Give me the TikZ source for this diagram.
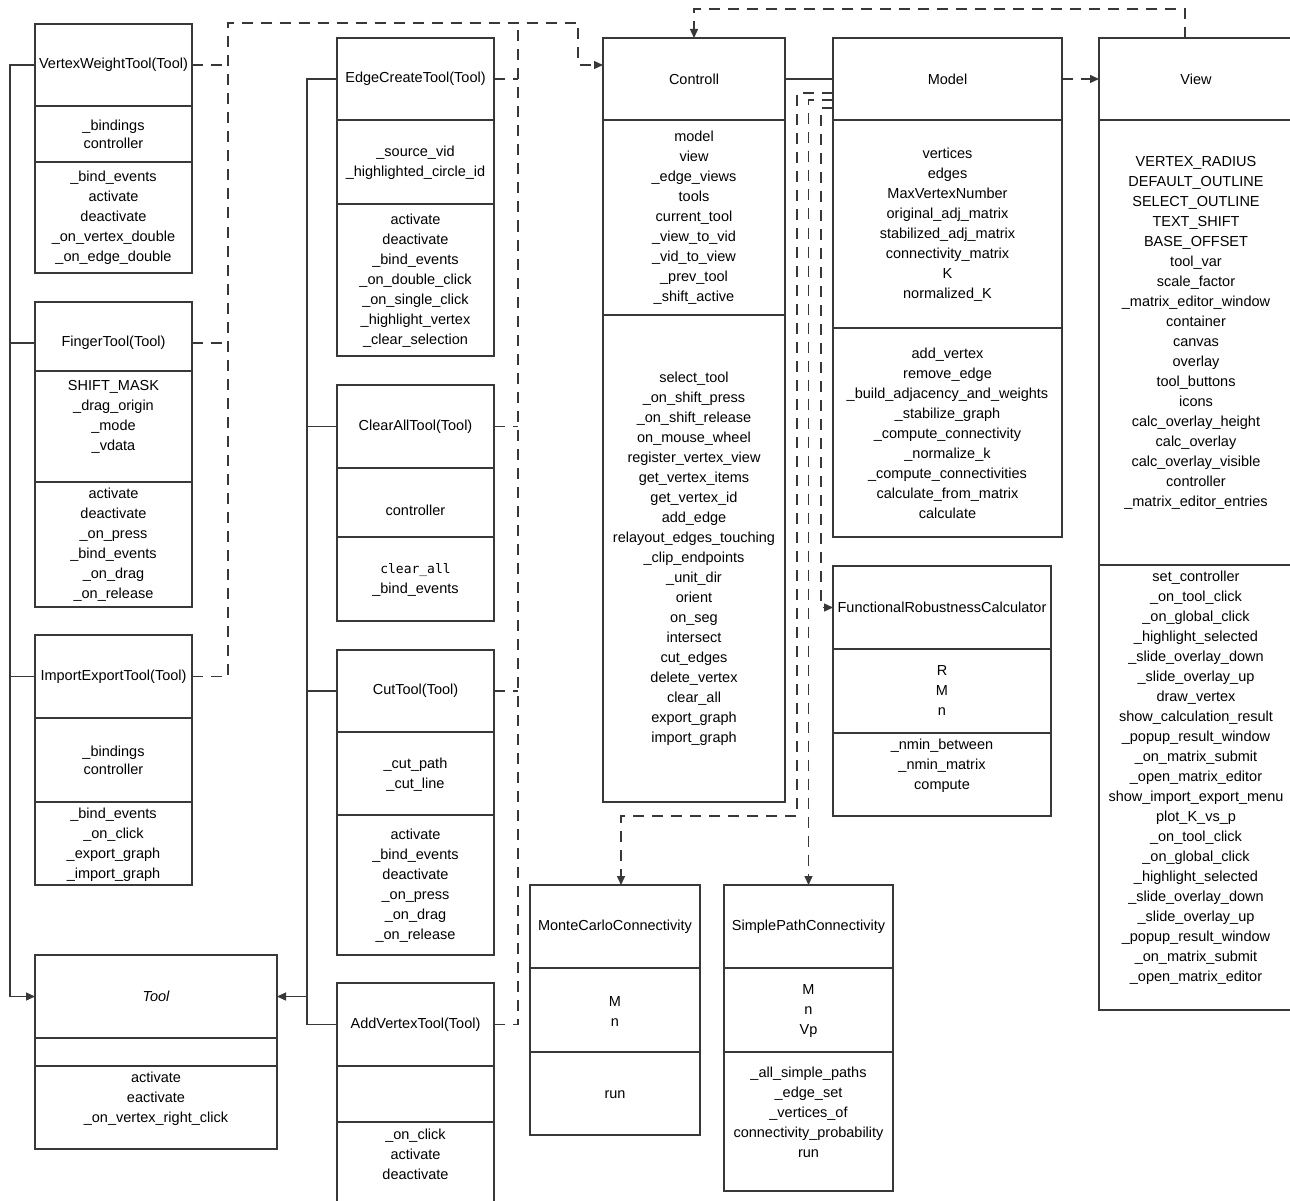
\documentclass[tikz,border=0pt]{standalone}
\usepackage{fontspec}
\setmainfont{Liberation Sans}
\newfontfamily\codefont{DejaVu Sans Mono}
\usetikzlibrary{arrows.meta,calc}

\tikzset{
  cbox/.style={draw=black!78, line width=1.5pt, inner sep=0pt, outer sep=0pt, fill=white},
  txt/.style={inner sep=0pt, align=center, text=black, font=\fontsize{14.5}{20}\selectfont},
  tight/.style={font=\fontsize{14.5}{18}\selectfont},
  link/.style={draw=black!78, line width=1.4pt},
  dep/.style={link, dash pattern=on 11pt off 8pt},
  tip/.style={-{Triangle[length=9pt,width=8pt]}},
}

% class box: name, left, right, top, header bottom, attribute bottom, bottom, title
% (the header node is at least 82 high; the attribute node is drawn over it)
\newcommand\umlclass[8]{%
  \node[cbox, minimum width={#3-#2}, minimum height={max(82,#5-#4)}] (#1) at ({(#2+#3)/2},{#4+max(82,#5-#4)/2}) {};
  \node[cbox, minimum width={#3-#2}, minimum height={#6-#5}] (#1-a) at ({(#2+#3)/2},{(#5+#6)/2}) {};
  \node[cbox, minimum width={#3-#2}, minimum height={#7-#6}] (#1-m) at ({(#2+#3)/2},{(#6+#7)/2}) {};
  \node[txt] (#1-title) at (#1.center) {#8};
}

\begin{document}
\begin{tikzpicture}[x=1pt, y=-1pt]
\useasboundingbox (0,0) rectangle (1290,1201);
\fill[white] (0,0) rectangle (1290,1201);
\clip (0,0) rectangle (1290,1201);

% ---------- tool classes, left column ----------
\umlclass{vwt}{35}{192}{24}{106}{162}{273}{VertexWeightTool(Tool)}
\node[txt, tight] (vwt-at) at (113.5,134) {\_bindings\\controller};
\node[txt] (vwt-mt) at (113.5,218) {\_bind\_events\\activate\\deactivate\\\_on\_vertex\_double\\\_on\_edge\_double};

\umlclass{ft}{35}{192}{302}{371}{482}{607}{FingerTool(Tool)}
\node[txt] (ft-at) at (113.5,417) {SHIFT\_MASK\\\_drag\_origin\\\_mode\\\_vdata};
\node[txt] (ft-mt) at (113.5,545) {activate\\deactivate\\\_on\_press\\\_bind\_events\\\_on\_drag\\\_on\_release};

\umlclass{iet}{35}{192}{635}{718}{802}{885}{ImportExportTool(Tool)}
\node[txt, tight] (iet-at) at (113.5,760) {\_bindings\\controller};
\node[txt] (iet-mt) at (113.5,844.5) {\_bind\_events\\\_on\_click\\\_export\_graph\\\_import\_graph};

\umlclass{tool}{35}{277}{955}{1038}{1066}{1149}{\itshape Tool}
\node[txt] (tool-mt) at (156,1098.5) {activate\\eactivate\\\_on\_vertex\_right\_click};

% ---------- tool classes, middle column ----------
\umlclass{ect}{337}{494}{38}{120}{204}{356}{EdgeCreateTool(Tool)}
\node[txt] (ect-at) at (415.5,162.5) {\_source\_vid\\\_highlighted\_circle\_id};
\node[txt] (ect-mt) at (415.5,280.5) {activate\\deactivate\\\_bind\_events\\\_on\_double\_click\\\_on\_single\_click\\\_highlight\_vertex\\\_clear\_selection};

\umlclass{cat}{337}{494}{385}{468}{537}{621}{ClearAllTool(Tool)}
\node[txt] (cat-at) at (415.5,510) {controller};
\node[txt] (cat-mt) at (415.5,580) {{\codefont\fontsize{13}{21}\selectfont clear\_all}\\\_bind\_events};

\umlclass{cut}{337}{494}{650}{732}{815}{955}{CutTool(Tool)}
\node[txt] (cut-at) at (415.5,774.5) {\_cut\_path\\\_cut\_line};
\node[txt] (cut-mt) at (415.5,885.5) {activate\\\_bind\_events\\deactivate\\\_on\_press\\\_on\_drag\\\_on\_release};

\umlclass{avt}{337}{494}{983}{1066}{1122}{1215}{AddVertexTool(Tool)}
\node[txt] (avt-mt) at (415.5,1154.5) {\_on\_click\\activate\\deactivate};

% ---------- controller, model, view ----------
\umlclass{ctl}{603}{785}{38}{120}{315}{802}{Controll}
\node[txt] (ctl-at) at (694,218) {model\\view\\\_edge\_views\\tools\\current\_tool\\\_view\_to\_vid\\\_vid\_to\_view\\\_prev\_tool\\\_shift\_active};
\node[txt] (ctl-mt) at (694,558.5) {select\_tool\\\_on\_shift\_press\\\_on\_shift\_release\\on\_mouse\_wheel\\register\_vertex\_view\\get\_vertex\_items\\get\_vertex\_id\\add\_edge\\relayout\_edges\_touching\\\_clip\_endpoints\\\_unit\_dir\\orient\\on\_seg\\intersect\\cut\_edges\\delete\_vertex\\clear\_all\\export\_graph\\import\_graph};

\umlclass{model}{833}{1062}{38}{120}{328}{537}{Model}
\node[txt] (model-at) at (947.5,225) {vertices\\edges\\MaxVertexNumber\\original\_adj\_matrix\\stabilized\_adj\_matrix\\connectivity\_matrix\\K\\normalized\_K};
\node[txt] (model-mt) at (947.5,433.5) {add\_vertex\\remove\_edge\\\_build\_adjacency\_and\_weights\\\_stabilize\_graph\\\_compute\_connectivity\\\_normalize\_k\\\_compute\_connectivities\\calculate\_from\_matrix\\calculate};

\umlclass{view}{1099}{1293}{38}{120}{565}{1010}{View}
\node[txt] (view-at) at (1196,333) {VERTEX\_RADIUS\\DEFAULT\_OUTLINE\\SELECT\_OUTLINE\\TEXT\_SHIFT\\BASE\_OFFSET\\tool\_var\\scale\_factor\\\_matrix\_editor\_window\\container\\canvas\\overlay\\tool\_buttons\\icons\\calc\_overlay\_height\\calc\_overlay\\calc\_overlay\_visible\\controller\\\_matrix\_editor\_entries};
\node[txt] (view-mt) at (1196,778) {set\_controller\\\_on\_tool\_click\\\_on\_global\_click\\\_highlight\_selected\\\_slide\_overlay\_down\\\_slide\_overlay\_up\\draw\_vertex\\show\_calculation\_result\\\_popup\_result\_window\\\_on\_matrix\_submit\\\_open\_matrix\_editor\\show\_import\_export\_menu\\plot\_K\_vs\_p\\\_on\_tool\_click\\\_on\_global\_click\\\_highlight\_selected\\\_slide\_overlay\_down\\\_slide\_overlay\_up\\\_popup\_result\_window\\\_on\_matrix\_submit\\\_open\_matrix\_editor};

% ---------- calculators ----------
\umlclass{frc}{833}{1051}{566}{649}{733}{816}{FunctionalRobustnessCalculator}
\node[txt] (frc-at) at (942,691) {R\\M\\n};
\node[txt] (frc-mt) at (942,765.5) {\_nmin\_between\\\_nmin\_matrix\\compute};

\umlclass{mc}{530}{700}{885}{968}{1052}{1135}{MonteCarloConnectivity}
\node[txt] (mc-at) at (615,1011.5) {M\\n};
\node[txt] (mc-mt) at (615,1095) {run};

\umlclass{spt}{724}{893}{885}{968}{1052}{1191}{SimplePathConnectivity}
\node[txt] (spt-at) at (808.5,1011) {M\\n\\Vp};
\node[txt] (spt-mt) at (808.5,1112.5) {\_all\_simple\_paths\\\_edge\_set\\\_vertices\_of\\connectivity\_probability\\run};

% ---------- inheritance trunks ----------
\draw[link, tip] (vwt.west) -- ++(-25,0) |- (tool.west);
\draw[link] (ft.west) -- ++(-25,0);
\draw[link] (iet.west) -- ++(-25,0);

\coordinate (mt) at ($(ect.west)+(-30,0)$);
\draw[link] (ect.west) -- (mt) |- (avt.west);
\draw[link] (cat.west) -- (cat.west -| mt);
\draw[link] (cut.west) -- (cut.west -| mt);
\draw[link, tip] (tool.east -| mt) -- (tool.east);

% ---------- tools depend on the controller ----------
\coordinate (ltrunk) at (228,23);
\coordinate (mtrunk) at (518,23);
\coordinate (cbend) at (578,23);
\coordinate (ctlin) at ($(ctl.north west)+(0,27)$);
\draw[dep, tip] (iet.east) -| (ltrunk) -- (cbend) |- (ctlin);
\draw[dep] (vwt.east) -- (vwt.east -| ltrunk);
\draw[dep] (ft.east) -- (ft.east -| ltrunk);
\draw[dep] (avt.east) -| (mtrunk);
\draw[dep] (ect.east) -- (ect.east -| mtrunk);
\draw[dep] (cat.east) -- (cat.east -| mtrunk);
\draw[dep] (cut.east) -- (cut.east -| mtrunk);

% ---------- controller, model and view ----------
\draw[link] (ctl.east) -- (model.west);
\draw[dep, tip] (model.east) -- (view.west);
\coordinate (vout) at ($(view.north west)+(86,0)$);
\draw[dep, tip] (vout) -- ++(0,-29) -| (ctl.north);

% ---------- model uses the calculators ----------
\coordinate (mA) at ($(model.north west)+(0,55)$);
\coordinate (mB) at ($(model.north west)+(0,62)$);
\coordinate (mC) at ($(model.north west)+(0,70)$);
\coordinate (mcin) at ($(mc.north)+(6,0)$);
\draw[dep, tip] (mA) -- ++(-36,0) |- ($(mcin)+(0,-69)$) -- (mcin);
\draw[dep, tip] (mB) -| (spt.north);
\draw[dep, tip] (mC) -- ++(-12,0) |- (frc.west);
\end{tikzpicture}
\end{document}
